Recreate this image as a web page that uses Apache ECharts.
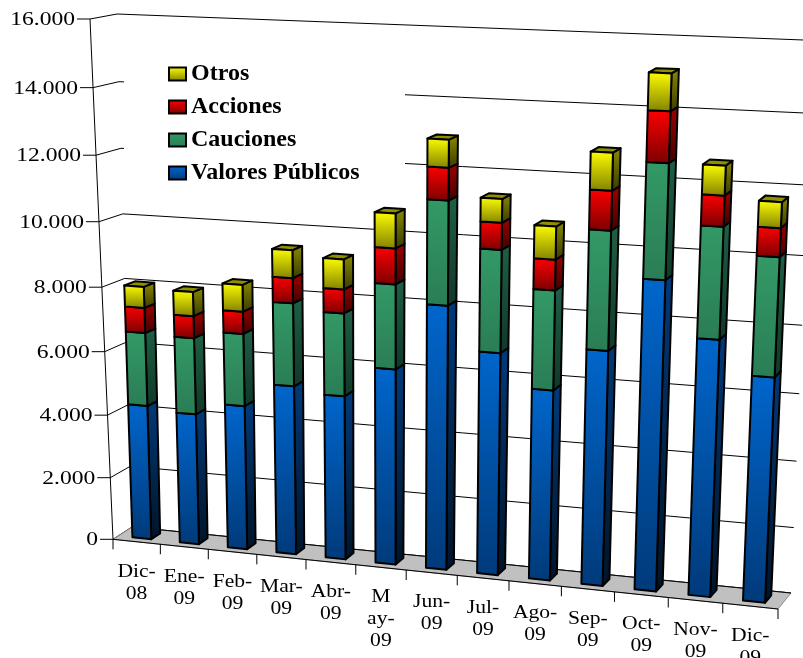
<!DOCTYPE html>
<html><head><meta charset="utf-8">
<style>html,body{margin:0;padding:0;background:#fff}#c{width:803px;height:658px}</style>
<script src="https://cdn.jsdelivr.net/npm/echarts@6/dist/echarts.min.js"></script>
</head><body><div id="c"></div>
<script>
const categories=['Dic-08','Ene-09','Feb-09','Mar-09','Abr-09','May-09','Jun-09','Jul-09','Ago-09','Sep-09','Oct-09','Nov-09','Dic-09'];
const categoryLabels=['Dic-\n08','Ene-\n09','Feb-\n09','Mar-\n09','Abr-\n09','M\nay-\n09','Jun-\n09','Jul-\n09','Ago-\n09','Sep-\n09','Oct-\n09','Nov-\n09','Dic-\n09'];
const valoresPublicos=[4290,4160,4550,5300,5120,6070,8110,6810,5820,7120,9300,7690,6720];
const cauciones=[2290,2380,2240,2540,2530,2560,3090,3050,2960,3500,3330,3240,3450];
const acciones=[780,680,680,760,720,1070,950,790,900,1140,1450,880,820];
const otros=[650,740,820,840,900,1030,810,690,960,1080,1050,840,730];
const yTicks=[0,2000,4000,6000,8000,10000,12000,14000,16000];
const yTickLabels=['0','2.000','4.000','6.000','8.000','10.000','12.000','14.000','16.000'];
const seriesNames=['Valores Públicos','Cauciones','Acciones','Otros'];

// projection of the chart's box: (u along categories, v along values, z depth) in 0..1
const K={A:[113,539.3],B:[778,609],C:[132,527],D:[791,593],E:[90,19],H:[801,50],F:[117,14],G:[814,40.4]};
const warp=(t,c)=>(1+c)*t/(1+c*t);
function project(u,v,z){
  const U=warp(u,-0.08),V=warp(v,-0.06);
  const lerp=(a,b,t)=>[a[0]+(b[0]-a[0])*t,a[1]+(b[1]-a[1])*t];
  const f0=lerp(lerp(K.A,K.B,U),lerp(K.E,K.H,U),V);
  const f1=lerp(lerp(K.C,K.D,U),lerp(K.F,K.G,U),V);
  return lerp(f0,f1,z);
}
// the columns lean a little less than the side wall's front edge
function projectBar(u,v,z){
  const p=project(u,v,z);
  return [p[0]+3*v*(1-0.5*u),p[1]];
}
const Z0=0.28,Z1=0.75,BAR=0.2;
const palettes=[
 {front:['#0066cc','#003a7a'],side:['#003a7a','#001428'],top:'#00397a'},
 {front:['#339966','#2a7d55'],side:['#1f5f45','#103828'],top:'#1f5f45'},
 {front:['#ff0000','#7a0000'],side:['#a00000','#400000'],top:'#8f0000'},
 {front:['#ffff00','#808000'],side:['#8a8a00','#3a3a00'],top:'#8f8f00'}
];
const grad=c=>new echarts.graphic.LinearGradient(0,0,0,1,[{offset:0,color:c[0]},{offset:1,color:c[1]}]);
const norm=(pt,r)=>[(pt[0]-r.x)/r.width,(r.y+r.height-pt[1])/r.height];

function barSeries(name,idx,values,below){
  const pal=palettes[idx];
  return {
    type:'custom',name,
    itemStyle:{color:grad(pal.front),borderColor:'#000',borderWidth:1.5},
    data:values.map((v,i)=>[i,below[i],below[i]+v]),
    encode:{x:0,y:[1,2]},
    renderItem(params,api){
      const r=params.coordSys,i=api.value(0);
      const a=norm(api.coord([i,api.value(1)]),r),b=norm(api.coord([i,api.value(2)]),r);
      const hw=api.size([1,0])[0]*BAR/r.width;
      const u0=a[0]-hw,u1=a[0]+hw,v0=a[1],v1=b[1];
      const st=fill=>({fill,stroke:'#000',lineWidth:2,lineJoin:'round'});
      const poly=(pts,fill)=>({type:'polygon',shape:{points:pts},style:st(fill)});
      const ch=[];
      ch.push(poly([projectBar(u1,v1,Z0),projectBar(u1,v1,Z1),projectBar(u1,v0,Z1),projectBar(u1,v0,Z0)],grad(pal.side)));
      if(idx===3) ch.push(poly([projectBar(u0,v1,Z0),projectBar(u1,v1,Z0),projectBar(u1,v1,Z1),projectBar(u0,v1,Z1)],pal.top));
      ch.push(poly([projectBar(u0,v1,Z0),projectBar(u1,v1,Z0),projectBar(u1,v0,Z0),projectBar(u0,v0,Z0)],grad(pal.front)));
      return {type:'group',children:ch};
    }
  };
}
let below=categories.map(()=>0);
const stacks=[valoresPublicos,cauciones,acciones,otros].map((vals,k)=>{
  const s=barSeries(seriesNames[k],k,vals,below);
  below=below.map((b,i)=>b+vals[i]);
  return s;
});

const wallSeries={
  type:'custom',name:'walls',silent:true,data:yTicks.map(v=>[0,v]),encode:{x:0,y:1},
  renderItem(params,api){
    const r=params.coordSys,v=norm(api.coord([0,api.value(1)]),r)[1];
    const p0=project(0,v,0),p1=project(0,v,1),p2=project(1,v,1);
    const ln={stroke:'#000',lineWidth:1,fill:null};
    const ch=[
      {type:'polyline',shape:{points:[[p0[0]-13,p0[1]],p0,p1,p2]},style:ln},
      {type:'text',x:p0[0]-15,y:p0[1]+1,scaleX:1.24,style:{text:yTickLabels[params.dataIndex],font:'19px "Liberation Serif"',textAlign:'right',textVerticalAlign:'middle',fill:'#000'}}
    ];
    return {type:'group',children:ch};
  }
};
const floorSeries={
  type:'custom',name:'floor',silent:true,data:[[0,0]],encode:{x:0,y:1},
  renderItem(params,api){
    const ln={stroke:'#000',lineWidth:1,fill:null};
    return {type:'group',children:[
      {type:'polygon',shape:{points:[project(0,0,0),project(1,0,0),project(1,0,1),project(0,0,1)]},style:{fill:'#c0c0c0',stroke:'#777',lineWidth:0.8}},
      {type:'polyline',shape:{points:[project(0,0,1),project(1,0,1)]},style:ln},
      {type:'polyline',shape:{points:[project(0,1,0),project(0,0,0),project(1,0,0)]},style:ln}
    ]};
  }
};
const xAxisSeries={
  type:'custom',name:'xticks',silent:true,data:categories.map((c,i)=>[i,0]),encode:{x:0,y:1},
  renderItem(params,api){
    const r=params.coordSys,i=api.value(0);
    const c=norm(api.coord([i,0]),r)[0],w=api.size([1,0])[0]/r.width;
    const ln={stroke:'#000',lineWidth:1,fill:null};
    const t0=project(c-w/2,0,0),mid=project(c,0,0);
    const ch=[
      {type:'line',shape:{x1:t0[0],y1:t0[1],x2:t0[0],y2:t0[1]+10},style:ln},
      {type:'text',x:mid[0],y:mid[1]+19,scaleX:1.2,style:{text:categoryLabels[i],font:'18px "Liberation Serif"',lineHeight:22,textAlign:'center',textVerticalAlign:'top',fill:'#000'}}
    ];
    if(i===categories.length-1){const t1=project(c+w/2,0,0);ch.push({type:'line',shape:{x1:t1[0],y1:t1[1],x2:t1[0],y2:t1[1]+10},style:ln});}
    return {type:'group',children:ch};
  }
};

const chart=echarts.init(document.getElementById('c'));
chart.setOption({
  animation:false,backgroundColor:'#fff',
  grid:{left:113,top:19,width:665,height:520},
  xAxis:{type:'category',data:categories,show:false},
  yAxis:{type:'value',min:0,max:16000,interval:2000,show:false},
  legend:{orient:'vertical',left:163,top:57,itemWidth:17,itemHeight:13,itemGap:9,icon:'rect',
    data:['Otros','Acciones','Cauciones','Valores Públicos'],
    textStyle:{fontFamily:'Liberation Serif',fontWeight:'bold',fontSize:24,color:'#000'}},
  graphic:{elements:[{type:'rect',shape:{x:124,y:50,width:281,height:145},style:{fill:'#fff'},z:3,silent:true}]},
  series:[wallSeries,floorSeries,xAxisSeries,...stacks]
});
</script></body></html>
